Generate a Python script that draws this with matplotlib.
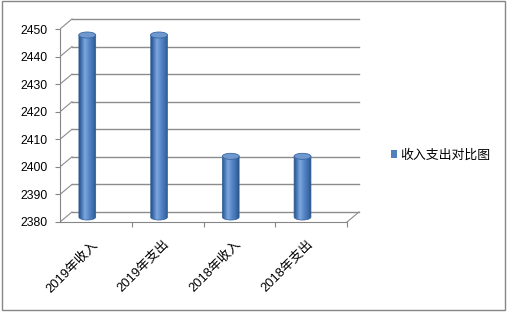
import numpy as np
import matplotlib
matplotlib.use('Agg')
import matplotlib.pyplot as plt
from matplotlib.patches import Ellipse, PathPatch, Rectangle, Patch
from matplotlib.path import Path
from matplotlib.colors import LinearSegmentedColormap

plt.rcParams['font.family'] = ['Liberation Sans', 'Noto Sans CJK SC', 'DejaVu Sans']

# data
categories = ['2019年收入', '2019年支出', '2018年收入', '2018年支出']
values = [2446, 2446, 2402, 2402]
series_name = '收入支出对比图'
y_ticks = list(range(2380, 2451, 10))
y_min, y_max = 2380, 2450

# fake 3d look
DX = 0.167      # depth offset (category units)
DY = 3.63       # depth offset (value units)
BAR_W = 0.235
BAR_SHIFT = -0.12
ELL_H = 2.2

GRID = '#8c8c8c'
AXIS = '#868686'

cyl_cmap = LinearSegmentedColormap.from_list(
    'cyl', [(0.0, '#2b5385'), (0.12, '#3f6fae'), (0.35, '#7ea7de'),
            (0.6, '#5586c7'), (0.88, '#3a69a6'), (1.0, '#2a5184')])

fig = plt.figure(figsize=(5.07, 3.12), dpi=100)
ax = fig.add_axes([60/507, 90/312, 301.35/507, 205/312])

# back wall grid lines and left wall diagonals
for v in y_ticks:
    ax.plot([-0.5 + DX, 3.5 + DX], [v + DY, v + DY], color=GRID, lw=1, zorder=1)
    ax.plot([-0.5, -0.5 + DX], [v, v + DY], color=GRID, lw=0.8, zorder=1)
# floor right edge
ax.plot([3.5, 3.5 + DX], [y_min, y_min + DY], color=GRID, lw=0.8, zorder=1)

# cylinders
grad = np.linspace(0, 1, 64).reshape(1, -1)
t = np.linspace(np.pi, 2 * np.pi, 30)
for i, v in enumerate(values):
    xc = i + BAR_SHIFT
    base = y_min + DY / 2
    top = v + DY / 2
    left, right = xc - BAR_W / 2, xc + BAR_W / 2
    ell_x = xc + BAR_W / 2 * np.cos(t)
    ell_y = base + ELL_H / 2 * np.sin(t)
    verts = [(left, top)] + list(zip(ell_x, ell_y)) + [(right, top), (left, top)]
    codes = [Path.MOVETO] + [Path.LINETO] * (len(verts) - 2) + [Path.CLOSEPOLY]
    body = PathPatch(Path(verts, codes), facecolor='none', edgecolor='#33609a',
                     lw=0.5, zorder=3)
    ax.add_patch(body)
    im = ax.imshow(grad, cmap=cyl_cmap, extent=[left, right, base - ELL_H / 2, top],
                   aspect='auto', interpolation='bilinear', zorder=2)
    im.set_clip_path(body)
    ax.add_patch(Ellipse((xc, top), BAR_W, ELL_H, facecolor='#6f98cf',
                         edgecolor='#3a67a3', lw=0.6, zorder=4))

ax.set_xlim(-0.5, 3.7)
ax.set_ylim(y_min, y_min + 205 / 2.757)

for s in ['top', 'right']:
    ax.spines[s].set_visible(False)
ax.spines['left'].set_bounds(y_min, y_max)
ax.spines['bottom'].set_bounds(-0.5, 3.5)
for s in ['left', 'bottom']:
    ax.spines[s].set_color(AXIS)
    ax.spines[s].set_zorder(5)

ax.set_yticks(y_ticks)
ax.tick_params(axis='y', length=3.6, color=AXIS, pad=5.5, labelsize=8.8)
ax.set_xticks([0.5, 1.5, 2.5, 3.5])
ax.set_xticklabels([])
ax.tick_params(axis='x', which='major', length=3.6, color=AXIS)
ax.set_xticks(range(len(categories)), categories, minor=True)
ax.tick_params(axis='x', which='minor', length=0, pad=15, labelsize=9.3)
for lbl in ax.get_xticklabels(minor=True):
    lbl.set_rotation(45)
    lbl.set_ha('right')
    lbl.set_va('center')
    lbl.set_rotation_mode('anchor')

handle = Patch(facecolor='#4f81bd', edgecolor='none')
fig.legend([handle], [series_name], loc='center left',
           bbox_to_anchor=(391/507, 1 - 155/312), frameon=False,
           borderpad=0, borderaxespad=0, handlelength=0.5, handleheight=0.5,
           handletextpad=0.25, prop={'family': ['Noto Sans CJK SC'], 'size': 9.3})

fig.patches.append(Rectangle((1.5/507, 2/312), 503.5/507, 309/312, transform=fig.transFigure,
                             fill=False, edgecolor=AXIS, lw=1))

fig.savefig('out.png', dpi=100)
